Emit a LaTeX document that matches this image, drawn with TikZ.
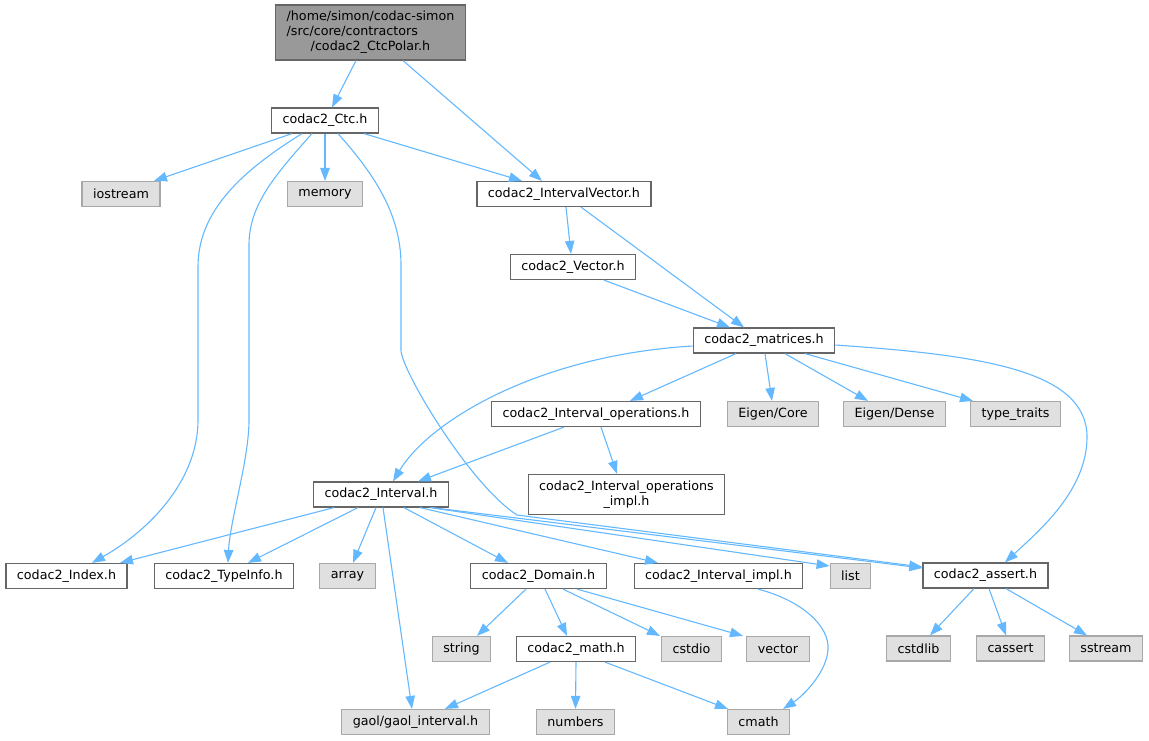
\documentclass[tikz,border=0pt]{standalone}
\usepackage{fontspec}
\setmainfont{DejaVu Sans}
\usetikzlibrary{arrows.meta}
\definecolor{edgeblue}{HTML}{63B8FF}
\definecolor{hdrline}{HTML}{666666}
\definecolor{sysline}{HTML}{A8A8A8}
\definecolor{sysfill}{HTML}{E0E0E0}
\definecolor{rootfill}{HTML}{999999}
\tikzset{%
  incarrow/.style = {-{Triangle[length=13pt,width=9.5pt]},draw=edgeblue,
        line width=1.1pt},
  hdr/.style = {rectangle,draw=hdrline,fill=white,line width=1.2pt,
        inner xsep=11pt,inner ysep=0pt,minimum height=25pt},
  sys/.style = {hdr,draw=sysline,fill=sysfill},
  rootbox/.style = {hdr,fill=rootfill,minimum height=55pt}
}
\begin{document}
\begin{tikzpicture}[
x=1pt,y=-1pt,
every node/.style={font=\fontsize{12.7}{15}\selectfont},
every text node part/.style={align=center}
]
\useasboundingbox (0,0) rectangle (1149,740);
% headers
\node[rootbox] (polar) at (370.5,32.5) {\begin{tabular}{@{}l@{}}/home/simon/codac-simon\\/src/core/contractors\\\multicolumn{1}{@{}c@{}}{/codac2\_CtcPolar.h}\end{tabular}};
\node[hdr] (ctc) at (325,120.5) {codac2\_Ctc.h};
\node[sys] (iostream) at (121,194) {iostream};
\node[sys] (memory) at (325,194) {memory};
\node[hdr] (ivec) at (564,194) {codac2\_IntervalVector.h};
\node[hdr] (vec) at (573,267) {codac2\_Vector.h};
\node[hdr] (matrices) at (764,340.5) {codac2\_matrices.h};
\node[hdr] (iops) at (596,414) {codac2\_Interval\_operations.h};
\node[sys] (ecore) at (773,414) {Eigen/Core};
\node[sys] (edense) at (894.5,414) {Eigen/Dense};
\node[sys] (traits) at (1015.5,414) {type\_traits};
\node[hdr,minimum height=40pt] (iopsimpl) at (626.5,494.5) {codac2\_Interval\_operations\\\_impl.h};
\node[hdr] (interval) at (381,494.5) {codac2\_Interval.h};
\node[hdr] (index) at (66.5,576) {codac2\_Index.h};
\node[hdr] (typeinfo) at (224,576) {codac2\_TypeInfo.h};
\node[sys] (array) at (347.5,576) {array};
\node[hdr] (domain) at (538.5,576) {codac2\_Domain.h};
\node[hdr] (iimpl) at (718.5,576) {codac2\_Interval\_impl.h};
\node[sys] (list) at (850.5,576) {list};
\node[hdr] (assert) at (985.5,575.5) {codac2\_assert.h};
\node[sys] (string) at (461.5,649) {string};
\node[hdr] (math) at (576,649) {codac2\_math.h};
\node[sys] (cstdio) at (691.5,649) {cstdio};
\node[sys] (vector) at (778,649) {vector};
\node[sys] (cstdlib) at (918.5,648.5) {cstdlib};
\node[sys] (cassert) at (1010.5,648.5) {cassert};
\node[sys] (sstream) at (1106,648.5) {sstream};
\node[sys] (gaol) at (415.5,722) {gaol/gaol\_interval.h};
\node[sys] (numbers) at (575.5,722) {numbers};
\node[sys] (cmath) at (758.5,722) {cmath};
% includes
\draw[incarrow] ([xshift=-14.5pt]polar.south) -- ([xshift=7pt]ctc.north);
\draw[incarrow] ([xshift=32.5pt]polar.south) -- ([xshift=-22pt]ivec.north);
\draw[incarrow] ([xshift=-33pt]ctc.south) -- ([xshift=33pt]iostream.north);
\draw[incarrow] (ctc.south) -- (memory.north);
\draw[incarrow] ([xshift=39pt]ctc.south) -- ([xshift=-42pt]ivec.north);
\draw[incarrow] ([xshift=-23pt]ctc.south) .. controls (235,175) and (198,215) .. (198,267)
    -- (198,420) .. controls (198,480) and (150,530) .. ([xshift=25.5pt]index.north);
\draw[incarrow] ([xshift=-13pt]ctc.south) .. controls (275,175) and (249,205) .. (249,245)
    -- (249,420) .. controls (249,460) and (230,520) .. ([xshift=4pt]typeinfo.north);
\draw[incarrow] ([xshift=13pt]ctc.south) .. controls (375,175) and (401,215) .. (401,265)
    -- (401,350) .. controls (401,370) and (470,485) .. (517,515)
    -- ([yshift=8.5pt]assert.west);
\draw[incarrow] ([xshift=2pt]ivec.south) -- ([xshift=-2pt]vec.north);
\draw[incarrow] ([xshift=17pt]ivec.south) -- ([xshift=-20pt]matrices.north);
\draw[incarrow] ([xshift=31pt]vec.south) -- ([xshift=-34pt]matrices.north);
\draw[incarrow] ([yshift=-5.5pt]matrices.west) .. controls (540,355) and (430,420) .. ([xshift=12pt]interval.north);
\draw[incarrow] ([xshift=-28pt]matrices.south) -- ([xshift=34pt]iops.north);
\draw[incarrow] ([xshift=1pt]matrices.south) -- ([xshift=-1pt]ecore.north);
\draw[incarrow] ([xshift=21pt]matrices.south) -- ([xshift=-26.5pt]edense.north);
\draw[incarrow] ([xshift=41pt]matrices.south) -- ([xshift=-42.5pt]traits.north);
\draw[incarrow] ([yshift=-4.5pt]matrices.east) .. controls (980,355) and (1087,370) .. (1087,437)
    .. controls (1087,490) and (1040,530) .. ([xshift=19.5pt]assert.north);
\draw[incarrow] ([xshift=-32pt]iops.south) -- ([xshift=37pt]interval.north);
\draw[incarrow] ([xshift=5pt]iops.south) -- ([xshift=-9.5pt]iopsimpl.north);
\draw[incarrow] ([xshift=-47pt]interval.south) -- ([xshift=53.5pt]index.north);
\draw[incarrow] ([xshift=-23pt]interval.south) -- ([xshift=24pt]typeinfo.north);
\draw[incarrow] ([xshift=-5pt]interval.south) -- ([xshift=5.5pt]array.north);
\draw[incarrow] ([xshift=2pt]interval.south) -- ([xshift=-3.5pt]gaol.north);
\draw[incarrow] ([xshift=23pt]interval.south) -- ([xshift=-30.5pt]domain.north);
\draw[incarrow] ([xshift=39pt]interval.south) -- ([xshift=-60.5pt]iimpl.north);
\draw[incarrow] ([xshift=49pt]interval.south) -- ([yshift=10pt]list.west);
\draw[incarrow] ([xshift=51pt]interval.south) -- ([yshift=7.5pt]assert.west);
\draw[incarrow] ([xshift=-12.5pt]domain.south) -- ([xshift=15.5pt]string.north);
\draw[incarrow] ([xshift=6.5pt]domain.south) -- ([xshift=-9pt]math.north);
\draw[incarrow] ([xshift=24.5pt]domain.south) -- ([xshift=-31.5pt]cstdio.north);
\draw[incarrow] ([xshift=38.5pt]domain.south) -- ([xshift=-35pt]vector.north);
\draw[incarrow] ([xshift=39.5pt]iimpl.south) .. controls (800,600) and (830,625) .. (828,650)
    .. controls (826,675) and (800,698) .. ([xshift=24.5pt]cmath.north);
\draw[incarrow] ([xshift=-11.5pt]assert.south) -- ([xshift=11.5pt]cstdlib.north);
\draw[incarrow] ([xshift=3.5pt]assert.south) -- ([xshift=-4.5pt]cassert.north);
\draw[incarrow] ([xshift=20.5pt]assert.south) -- ([xshift=-19pt]sstream.north);
\draw[incarrow] ([xshift=-26pt]math.south) -- ([xshift=29.5pt]gaol.north);
\draw[incarrow] (math.south) -- (numbers.north);
\draw[incarrow] ([xshift=29pt]math.south) -- ([xshift=-30.5pt]cmath.north);
\end{tikzpicture}
\end{document}
